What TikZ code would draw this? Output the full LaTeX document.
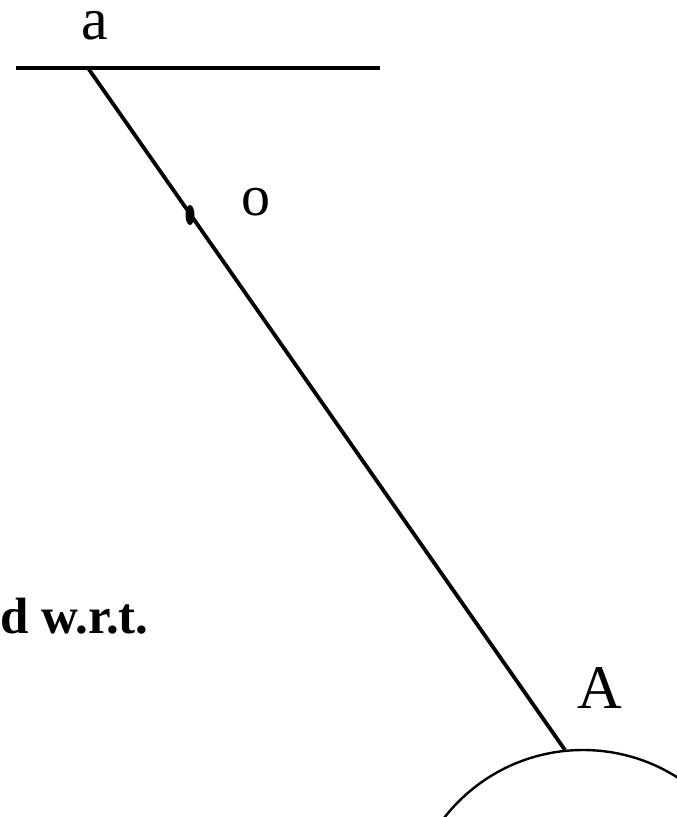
\documentclass[tikz,border=0pt]{standalone}
\usepackage{fontspec}
\setmainfont{Liberation Serif}
\begin{document}
\begin{tikzpicture}[x=1pt,y=-1pt,
  lbl/.style={inner sep=0pt,anchor=base,font=\fontsize{62}{62}\selectfont},
  thick line/.style={line width=3.8pt},
  thin line/.style={line width=2.4pt}]
\useasboundingbox (0,0) rectangle (677,817);
\clip (0,0) rectangle (677,817);
\coordinate (hl) at (16,68);
\coordinate (hr) at (380,68);
\coordinate (top) at (88,68);
\coordinate (bot) at (565,750);
\coordinate (cc) at (583,926);
\draw[thick line] (hl) -- (hr);
\draw[thick line] (top) -- (bot);
\draw[thin line] (cc) circle [radius=176];
\fill (190,215) ellipse [x radius=4.5pt, y radius=10pt];
\node[lbl,font=\fontsize{60}{60}\selectfont] (la) at (95,39) {a};
\node[lbl,font=\fontsize{58}{58}\selectfont] (lo) at (256,215) {o};
\node[lbl] (lA) at (600,708) {A};
\node[inner sep=0pt,anchor=base west,font=\fontsize{51}{51}\selectfont\bfseries] (ld) at (0,633) {d w.r.t.};
\end{tikzpicture}
\end{document}
